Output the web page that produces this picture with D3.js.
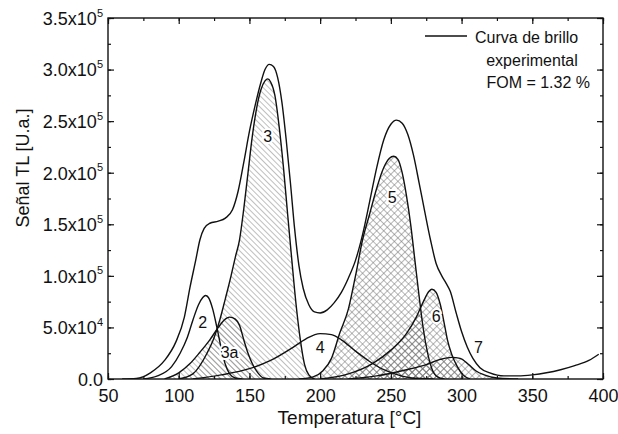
<!DOCTYPE html>
<html>
<head>
<meta charset="utf-8">
<script src="https://cdn.jsdelivr.net/npm/d3@7"></script>
<style>
  body { margin: 0; background: #fff; }
  svg { font-family: "Liberation Sans", Arial, sans-serif; }
</style>
</head>
<body>
<svg width="618" height="434"></svg>
<script>
// values: [temperature °C, signal in 10^3 U.a.]
var experimental = [[60,0],[70,0.5],[80,6],[90,18],[98,36],[104,60],[108,89],[112,115],[115,135],[118,146],[122,151],[128,153],[133,156],[138,164],[142,182],[146,210],[150,240],[154,265],[158,287],[161,300],[164,305],[167,303],[170,292],[173,268],[176,232],[179,190],[182,145],[185,110],[188,88],[192,72],[196,65],[200,64],[205,67],[210,74],[215,84],[220,98],[225,115],[230,140],[235,172],[240,205],[245,232],[250,247],[254,251],[258,248],[262,237],[266,217],[270,190],[274,162],[278,135],[282,112],[286,100],[289,93],[292,85],[296,65],[300,46],[304,31],[308,20],[313,11],[320,6],[330,3],[340,3],[350,4],[360,6],[370,9],[380,13],[390,18],[397,24]];
var peak2 = [[75,0],[85,3],[95,12],[101,25],[106,40],[110,57],[114,72],[117,79],[119,81],[121,79],[124,68],[127,50],[130,30],[133,14],[136,5],[140,1],[145,0]];
var peak3 = [[100,0],[110,5],[120,25],[125,40],[129,57],[133,78],[137,100],[140,118],[143,135],[146,165],[149,200],[152,235],[155,262],[158,280],[161,289],[163,291],[165,288],[168,275],[171,245],[174,206],[177,160],[180,115],[183,72],[186,38],[189,14],[192,4],[196,0]];
var peak3a = [[90,0],[100,6],[108,15],[115,26],[122,38],[128,50],[132,57],[136,60],[140,58],[143,52],[146,38],[149,25],[152,15],[156,6],[160,1],[165,0]];
var peak4 = [[110,0],[130,4],[150,10],[165,18],[180,30],[190,39],[200,44],[208,43],[215,38],[225,27],[235,17],[245,9],[255,4],[265,1],[280,0]];
var peak5 = [[185,0],[195,2],[202,8],[208,20],[214,45],[220,68],[225,100],[230,135],[235,160],[240,185],[245,205],[249,214],[252,216],[255,213],[258,200],[261,178],[264,150],[267,115],[270,80],[273,48],[276,25],[279,10],[283,2],[288,0]];
var peak6 = [[200,0],[220,5],[237,15],[250,28],[261,44],[268,60],[273,75],[277,85],[279,87],[282,84],[285,72],[288,52],[290,38],[293,24],[297,12],[301,4],[306,0]];
var peak7 = [[220,0],[240,3],[261,9],[275,14],[285,19],[293,21],[299,20],[305,14],[310,8],[316,4],[325,1],[340,0]];

var xTicks = [50, 100, 150, 200, 250, 300, 350, 400];
var yTicks = [0, 50, 100, 150, 200, 250, 300, 350];
var yTickLabels = [["0.0", ""], ["5.0x10", "4"], ["1.0x10", "5"], ["1.5x10", "5"], ["2.0x10", "5"], ["2.5x10", "5"], ["3.0x10", "5"], ["3.5x10", "5"]];
var peakNames = ["2", "3", "3a", "4", "5", "6", "7"];
var peakLabelAt = [[117,55],[163,235],[136,26],[200,31],[251,176],[282,61],[312,31]];

var svg = d3.select("svg"),
    margin = {top: 18, right: 15, bottom: 55, left: 108},
    width = 618 - margin.left - margin.right,
    height = 434 - margin.top - margin.bottom,
    g = svg.append("g").attr("transform", "translate(" + margin.left + "," + margin.top + ")");

var x = d3.scaleLinear().domain([50, 400]).range([0, width]);
var y = d3.scaleLinear().domain([0, 350]).range([height, 0]);

var defs = svg.append("defs");
defs.append("clipPath").attr("id", "clip")
  .append("rect").attr("width", width).attr("height", height);

var hatch = defs.append("pattern").attr("id", "hatch")
  .attr("patternUnits", "userSpaceOnUse")
  .attr("width", 4).attr("height", 4)
  .attr("patternTransform", "rotate(-45)");
hatch.append("line").attr("x1", 0).attr("y1", 0).attr("x2", 0).attr("y2", 4)
  .attr("stroke", "#808080").attr("stroke-width", 1);

var cross = defs.append("pattern").attr("id", "cross")
  .attr("patternUnits", "userSpaceOnUse")
  .attr("width", 5).attr("height", 5)
  .attr("patternTransform", "rotate(45)");
cross.append("path").attr("d", "M0,0V5M0,0H5")
  .attr("stroke", "#707070").attr("stroke-width", 1).attr("fill", "none");

var line = d3.line()
    .x(d => x(d[0]))
    .y(d => y(d[1]))
    .curve(d3.curveMonotoneX);

var area = d3.area()
    .x(d => x(d[0]))
    .y0(height)
    .y1(d => y(d[1]))
    .curve(d3.curveMonotoneX);

var plot = g.append("g").attr("clip-path", "url(#clip)");

[[peak3, "hatch"], [peak3a, "hatch"], [peak5, "cross"], [peak6, "cross"], [peak7, "cross"]].forEach(function(p) {
  plot.append("path").datum(p[0])
    .attr("fill", "url(#" + p[1] + ")")
    .attr("d", area);
});

for (const data of [peak2, peak3, peak3a, peak4, peak5, peak6, peak7, experimental]) {
  plot.append("path")
    .datum(data)
    .attr("fill", "none")
    .attr("stroke", "#111")
    .attr("stroke-linejoin", "round")
    .attr("stroke-width", 1.4)
    .attr("d", line);
}

// peak labels
g.selectAll(".plabel").data(peakNames).enter().append("text")
  .attr("class", "plabel")
  .attr("x", (d, i) => x(peakLabelAt[i][0]))
  .attr("y", (d, i) => y(peakLabelAt[i][1]))
  .attr("dy", "0.35em")
  .attr("text-anchor", "middle")
  .attr("font-size", 16)
  .attr("fill", "#111")
  .attr("stroke", "#fff").attr("stroke-width", 4)
  .attr("paint-order", "stroke")
  .text(d => d);

// axes, ticks inward on all four sides
var minorX = d3.range(50, 401, 25), minorY = d3.range(0, 351, 25);

function ticksOnly(axis, vals, size) {
  return axis.tickValues(vals).tickSize(size).tickFormat("");
}

g.append("g").attr("transform", "translate(0," + height + ")")
  .call(ticksOnly(d3.axisBottom(x), minorX, -3));
g.append("g").attr("transform", "translate(0," + height + ")")
  .call(d3.axisBottom(x).tickValues(xTicks).tickSize(-6).tickPadding(10))
  .call(a => a.selectAll("text").attr("font-size", 18).attr("fill", "#111"));
g.append("g").call(ticksOnly(d3.axisTop(x), minorX, -3));
g.append("g").call(ticksOnly(d3.axisTop(x), xTicks, -6));

g.append("g").call(ticksOnly(d3.axisLeft(y), minorY, -3));
var yAxis = g.append("g")
  .call(d3.axisLeft(y).tickValues(yTicks).tickSize(-6).tickPadding(6).tickFormat(""));
yAxis.selectAll(".tick").append("text")
  .attr("x", -5).attr("dy", "0.35em")
  .attr("text-anchor", "end")
  .attr("fill", "#111")
  .attr("font-size", 18)
  .each(function(d, i) {
    var t = d3.select(this), lab = yTickLabels[i];
    t.append("tspan").text(lab[0]);
    if (lab[1]) t.append("tspan").attr("font-size", 11).attr("dy", "-0.75em").text(lab[1]);
  });
g.append("g").attr("transform", "translate(" + width + ",0)")
  .call(ticksOnly(d3.axisRight(y), minorY, -3));
g.append("g").attr("transform", "translate(" + width + ",0)")
  .call(ticksOnly(d3.axisRight(y), yTicks, -6));

g.selectAll(".domain").remove();
g.selectAll(".tick line").attr("stroke", "#111").attr("stroke-width", 1.2);

g.append("rect")
  .attr("width", width).attr("height", height)
  .attr("fill", "none").attr("stroke", "#111").attr("stroke-width", 1.4);

// axis titles
svg.append("text")
  .attr("x", margin.left + width / 2 - 6).attr("y", 424)
  .attr("text-anchor", "middle").attr("font-size", 19).attr("fill", "#111")
  .text("Temperatura [°C]");
svg.append("text")
  .attr("transform", "translate(29,168) rotate(-90)")
  .attr("text-anchor", "middle").attr("font-size", 18).attr("fill", "#111")
  .text("Señal TL [U.a.]");

// legend
var leg = svg.append("g");
leg.append("line").attr("x1", 425).attr("x2", 467).attr("y1", 36).attr("y2", 36)
  .attr("stroke", "#111").attr("stroke-width", 1.4);
leg.append("text").attr("x", 475).attr("y", 43).attr("font-size", 16).attr("fill", "#111").text("Curva de brillo");
leg.append("text").attr("x", 532).attr("y", 66).attr("text-anchor", "middle").attr("font-size", 16).attr("fill", "#111").text("experimental");
leg.append("text").attr("x", 590).attr("y", 88).attr("text-anchor", "end").attr("font-size", 16).attr("fill", "#111").text("FOM = 1.32 %");
</script>
</body>
</html>
